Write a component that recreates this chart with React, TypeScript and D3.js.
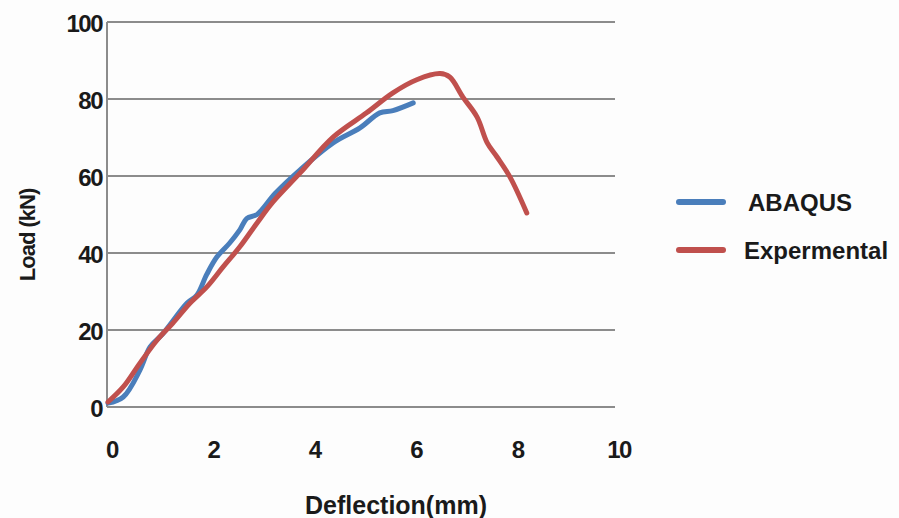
import React, { useRef, useEffect } from 'react';
import * as d3 from 'd3';

// ABAQUS (numerical) load-deflection curve
const abaqusX = [0, 0.3, 0.63, 0.83, 1.08, 1.56, 1.75, 1.95, 2.15, 2.4, 2.6, 2.74, 2.94, 3.3, 3.79, 4.44, 4.97, 5.36, 5.62, 6.02];
const abaqusY = [1, 2.6, 9.6, 15.6, 19, 27, 29, 34.5, 39, 42.6, 46, 49, 50, 55.5, 61.6, 68.6, 72.5, 76.4, 77, 79];

// Experimental load-deflection curve
const expX = [0, 0.3, 0.63, 0.97, 1.28, 1.62, 1.95, 2.27, 2.6, 2.94, 3.25, 3.79, 4.44, 5.1, 5.62, 6.09, 6.55, 6.74, 7.0, 7.28, 7.48, 7.67, 7.93, 8.26];
const expY = [1.3, 5.2, 11.4, 17.4, 21.8, 27, 31.2, 36.4, 41.6, 47.8, 53.2, 60.8, 70.1, 76.4, 81.6, 85, 86.6, 85.7, 80.5, 75.3, 68.6, 65, 59.7, 50.4];

const xTicks = [0, 2, 4, 6, 8, 10];
const yTicks = [0, 20, 40, 60, 80, 100];
const seriesNames = ['ABAQUS', 'Expermental'];
const seriesColors = ['#4a7ebb', '#c0504d'];

const App = () => {
  const svgRef = useRef<SVGSVGElement>(null);
  const width = 899;
  const height = 518;

  useEffect(() => {
    const svg = d3.select(svgRef.current);
    svg.selectAll('*').remove();

    const x = d3.scaleLinear().domain([0, 10]).range([108, 615]);
    const y = d3.scaleLinear().domain([0, 100]).range([407, 22]);
    const font = "'Liberation Sans', Arial, sans-serif";
    const textColor = '#1a1a1a';

    svg.append('rect').attr('width', width).attr('height', height).attr('fill', '#fdfdfd');

    // gridlines
    svg.append('g')
      .selectAll('line')
      .data(yTicks)
      .join('line')
      .attr('x1', x(0) - 1)
      .attr('x2', x(10))
      .attr('y1', d => y(d))
      .attr('y2', d => y(d))
      .attr('stroke', '#8c8c8c')
      .attr('stroke-width', 2);

    // vertical axis line
    svg.append('line')
      .attr('x1', x(0) - 1).attr('x2', x(0) - 1)
      .attr('y1', y(100)).attr('y2', y(0))
      .attr('stroke', '#8c8c8c')
      .attr('stroke-width', 2);

    // y tick labels
    svg.append('g')
      .selectAll('text')
      .data(yTicks)
      .join('text')
      .attr('x', x(0) - 6)
      .attr('y', d => y(d) + 2)
      .attr('dy', '0.35em')
      .attr('text-anchor', 'end')
      .attr('font-family', font)
      .attr('font-weight', 'bold')
      .attr('font-size', 24)
      .attr('letter-spacing', -1.5)
      .attr('fill', textColor)
      .text(d => d);

    // x tick labels
    svg.append('g')
      .selectAll('text')
      .data(xTicks)
      .join('text')
      .attr('x', d => x(d) + 4)
      .attr('y', 450)
      .attr('dy', '0.35em')
      .attr('text-anchor', 'middle')
      .attr('font-family', font)
      .attr('font-weight', 'bold')
      .attr('font-size', 24)
      .attr('letter-spacing', -1.5)
      .attr('fill', textColor)
      .text(d => d);

    // axis titles
    svg.append('text')
      .attr('x', 396)
      .attr('y', 505)
      .attr('dy', '0.35em')
      .attr('text-anchor', 'middle')
      .attr('font-family', font)
      .attr('font-weight', 'bold')
      .attr('font-size', 25)
      .attr('letter-spacing', 0)
      .attr('fill', textColor)
      .text('Deflection(mm)');

    svg.append('text')
      .attr('transform', 'translate(27,235) rotate(-90)')
      .attr('dy', '0.35em')
      .attr('text-anchor', 'middle')
      .attr('font-family', font)
      .attr('font-weight', 'bold')
      .attr('font-size', 22)
      .attr('letter-spacing', -1)
      .attr('fill', textColor)
      .text('Load (kN)');

    const line = d3.line<[number, number]>()
      .x(d => x(d[0]))
      .y(d => y(d[1]))
      .curve(d3.curveCatmullRom);

    const series: [number, number][][] = [
      abaqusX.map((v, i) => [v, abaqusY[i]] as [number, number]),
      expX.map((v, i) => [v, expY[i]] as [number, number]),
    ];

    series.forEach((pts, i) => {
      svg.append('path')
        .datum(pts)
        .attr('fill', 'none')
        .attr('stroke', seriesColors[i])
        .attr('stroke-width', 5)
        .attr('stroke-linecap', 'round')
        .attr('stroke-linejoin', 'round')
        .attr('d', line);
    });

    // legend
    const legend = svg.append('g');
    seriesNames.forEach((name, i) => {
      const ly = 202 + i * 48;
      legend.append('line')
        .attr('x1', 679).attr('x2', 723)
        .attr('y1', ly).attr('y2', ly)
        .attr('stroke', seriesColors[i])
        .attr('stroke-width', 6)
        .attr('stroke-linecap', 'round');
      legend.append('text')
        .attr('x', i === 0 ? 748 : 744)
        .attr('y', ly + 1)
        .attr('dy', '0.35em')
        .attr('font-family', font)
        .attr('font-weight', 'bold')
        .attr('font-size', 24)
        .attr('letter-spacing', 0)
        .attr('fill', textColor)
        .text(name);
    });
  }, []);

  return (
    <svg
      ref={svgRef}
      width={width}
      height={height}
      style={{ position: 'absolute', left: 0, top: 0, display: 'block' }}
    />
  );
};

export default App;
